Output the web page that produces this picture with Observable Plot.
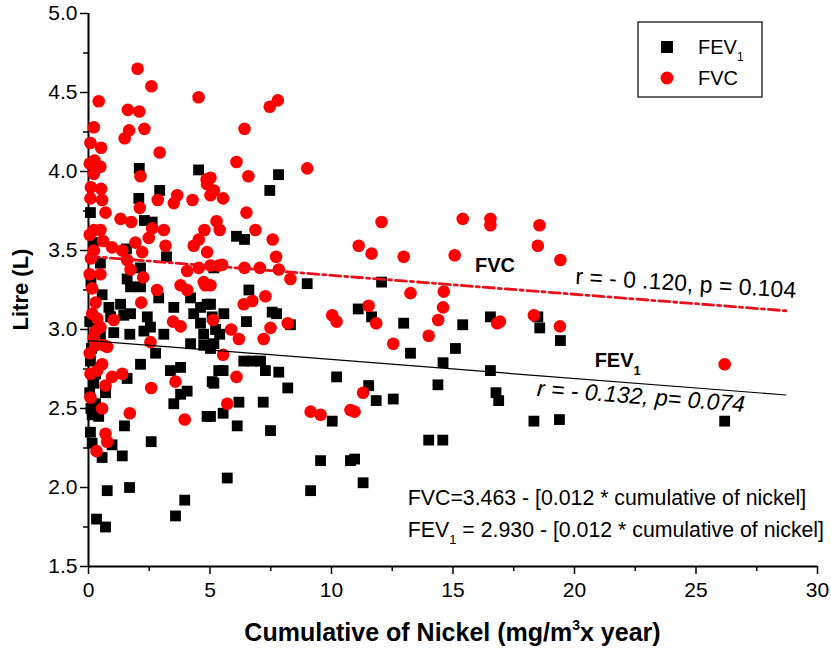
<!DOCTYPE html>
<html><head><meta charset="utf-8">
<script src="https://cdn.jsdelivr.net/npm/d3@7"></script>
<script src="https://cdn.jsdelivr.net/npm/@observablehq/plot@0.6"></script>
<style>body{margin:0;background:#fff;}</style>
</head><body><div id="chart"></div>
<script>
// ---- data ----
const fev1Cum = [2.09,4.53,7.82,2.07,2.93,2.30,2.62,0.08,1.56,3.21,0.49,2.14,1.59,1.73,2.14,2.89,0.56,3.51,4.20,4.61,4.88,1.32,1.45,1.73,2.42,2.55,0.84,0.91,4.33,4.61,4.74,5.09,5.23,0.49,1.04,1.70,2.28,3.10,4.20,4.74,5.16,0.12,0.08,0.29,0.22,0.70,1.59,2.14,3.37,3.79,4.06,3.79,3.51,5.09,4.88,5.36,0.29,0.15,0.42,0.08,0.15,0.97,1.39,0.56,1.48,2.58,0.77,1.69,3.96,3.58,0.33,0.70,2.76,7.46,6.09,6.42,5.16,6.60,9.00,5.02,5.57,7.56,7.74,6.50,8.31,5.40,5.02,6.39,6.74,7.08,5.54,7.28,7.83,5.16,8.20,10.21,6.19,7.19,5.54,5.02,6.12,7.49,10.03,9.55,10.78,5.71,9.14,12.06,11.10,11.65,12.97,15.40,16.54,18.49,18.57,19.42,15.10,13.25,14.59,16.54,11.53,11.84,12.54,14.38,16.77,16.88,18.33,19.38,14.00,14.58,10.95,11.30,26.18,0.05,0.10,0.20,0.05,0.30,0.10];
const fev1Val = [4.02,4.01,3.98,3.83,3.88,3.69,3.68,3.74,3.51,3.46,3.42,3.39,3.32,3.27,3.27,3.20,3.22,3.14,3.20,3.14,3.16,3.16,3.09,3.10,3.08,3.015,3.14,3.08,3.10,3.04,2.97,3.08,3.00,2.97,2.98,2.97,2.99,2.97,2.91,2.90,2.91,2.88,2.80,2.72,2.66,2.60,2.69,2.78,2.74,2.76,2.61,2.59,2.53,2.67,2.45,2.74,2.53,2.46,2.45,2.35,2.28,2.27,2.20,2.19,2.39,2.29,1.98,2.00,1.92,1.82,1.80,1.75,2.85,3.88,3.59,3.57,3.39,3.25,3.29,3.16,3.10,3.11,3.10,3.05,3.03,2.97,2.88,2.80,2.80,2.80,2.74,2.74,2.73,2.66,2.63,2.70,2.54,2.54,2.47,2.45,2.39,2.36,2.42,2.17,2.17,2.06,1.98,3.30,3.13,3.08,3.04,3.03,3.08,3.08,3.01,2.93,2.88,2.85,2.79,2.74,2.645,2.55,2.56,2.65,2.60,2.55,2.42,2.43,2.30,2.30,2.18,2.03,2.42,3.05,3.30,3.55,2.60,3.00,2.50];
const fvcCum = [2.02,2.59,0.42,1.62,2.09,4.53,0.22,1.67,2.30,1.49,0.08,0.52,2.93,0.25,0.49,0.22,2.14,4.86,7.79,7.46,6.42,6.09,6.58,9.00,5.02,0.52,0.08,0.56,2.85,3.65,3.51,4.28,4.88,5.02,2.11,0.70,1.32,1.76,5.27,0.22,0.49,2.62,3.10,2.48,4.77,4.54,0.60,0.97,1.39,1.93,2.21,3.17,4.33,4.88,0.22,1.59,1.73,4.06,4.54,5.02,5.36,0.49,2.25,4.74,4.81,0.15,2.82,3.79,4.06,2.17,0.29,0.36,0.49,0.29,1.04,3.48,3.79,5.13,2.55,0.22,0.63,0.29,0.77,0.56,0.36,0.08,0.97,1.39,0.70,0.08,0.56,1.70,0.70,0.77,0.33,2.58,3.58,3.96,5.16,5.54,6.50,5.40,6.87,7.58,7.72,5.50,6.42,7.05,7.83,8.31,5.02,7.28,6.39,6.74,10.03,10.21,8.20,7.49,5.87,6.19,7.21,5.54,6.09,5.71,9.14,9.55,10.78,12.06,15.40,16.54,16.54,18.56,11.12,11.65,12.97,15.07,18.49,19.42,13.25,14.62,14.59,11.53,11.84,14.39,14.00,12.54,16.82,16.93,18.33,19.40,11.30,10.95,26.18,0.05,0.10,0.05,0.10,0.05,0.15,0.05];
const fvcVal = [4.65,4.54,4.445,4.39,4.38,4.47,4.28,4.26,4.27,4.21,4.18,4.15,4.12,4.07,4.03,3.985,3.97,3.95,4.45,4.41,4.27,4.06,3.97,4.02,3.96,3.89,3.83,3.82,3.82,3.85,3.80,3.82,3.92,3.85,3.77,3.74,3.70,3.68,3.685,3.63,3.63,3.64,3.63,3.58,3.63,3.57,3.56,3.52,3.50,3.55,3.49,3.53,3.53,3.49,3.50,3.44,3.38,3.37,3.39,3.405,3.405,3.35,3.33,3.30,3.28,3.26,3.25,3.28,3.25,3.17,3.17,3.07,3.015,2.99,3.06,3.05,3.02,3.06,2.92,2.95,2.90,2.90,2.89,2.78,2.74,2.72,2.70,2.72,2.645,2.57,2.50,2.47,2.34,2.29,2.23,2.63,2.67,2.43,3.88,3.83,3.74,3.63,3.63,3.57,3.46,3.41,3.39,3.39,3.38,3.32,3.28,3.21,3.16,3.18,3.09,3.05,3.04,3.01,3.00,2.94,2.94,2.84,2.70,2.53,2.48,2.46,2.49,3.68,3.70,3.70,3.66,3.66,3.53,3.48,3.46,3.47,3.53,3.44,3.23,3.24,3.14,3.15,3.04,3.06,2.96,2.91,3.04,3.05,3.09,3.02,2.60,2.48,2.78,4.05,3.90,3.60,3.45,3.35,3.10,2.85];
const xTicks = [0,5,10,15,20,25,30];
const xMinor = [2.5,7.5,12.5,17.5,22.5,27.5];
const yTicks = [1.5,2.0,2.5,3.0,3.5,4.0,4.5,5.0];
const yMinor = [1.75,2.25,2.75,3.25,3.75,4.25,4.75];
const fvcFit = {intercept: 3.463, slope: -0.012};
const fev1Fit = {intercept: 2.930, slope: -0.012};
const fitRange = [0, 28.7];

// ---- build ----
const fev1 = fev1Cum.map((x,i)=>({x, y: fev1Val[i]}));
const fvc = fvcCum.map((x,i)=>({x, y: fvcVal[i]}));
const fitLine = f => fitRange.map(x=>({x, y: f.intercept + f.slope*x}));
const sans = '"Liberation Sans",Arial,sans-serif';
const RED = "#ff0000";

const chart = Plot.plot({
  width: 831, height: 657,
  marginLeft: 88, marginRight: 14, marginTop: 13, marginBottom: 91,
  x: {domain: [0,30]}, y: {domain: [1.5,5]},
  style: {fontFamily: sans, background: "white", overflow: "visible", color: "black"},
  marks: [
    Plot.axisY({ticks: yMinor, tickSize: 5, tickFormat: () => "", label: null, strokeWidth: 1.5}),
    Plot.axisY({ticks: yTicks, tickSize: 8, tickPadding: 3, tickFormat: d3.format(".1f"), label: null, fontSize: 21, strokeWidth: 1.5}),
    Plot.axisX({ticks: xMinor, tickSize: 5, tickFormat: () => "", label: null, strokeWidth: 1.5}),
    Plot.axisX({ticks: xTicks, tickSize: 8, tickPadding: 8, tickFormat: d => String(d), label: null, fontSize: 21, strokeWidth: 1.5}),
    Plot.ruleX([0], {strokeWidth: 2}),
    Plot.ruleY([1.5], {strokeWidth: 2}),
    Plot.dot(fev1, {x: "x", y: "y", symbol: "square", r: 6.1, fill: "black"}),
    Plot.dot(fvc, {x: "x", y: "y", symbol: "circle", r: 6.3, fill: RED}),
    Plot.line(fitLine(fev1Fit), {x: "x", y: "y", stroke: "black", strokeWidth: 1.2}),
    Plot.line(fitLine(fvcFit), {x: "x", y: "y", stroke: "#e8101a", strokeWidth: 2.8, strokeDasharray: "11,4,3,4"})
  ]
});
document.getElementById("chart").appendChild(chart);

const svg = d3.select(chart);
const sx = chart.scale("x"), sy = chart.scale("y");
const X = v => sx.apply(v), Y = v => sy.apply(v);
const txt = (sel) => sel.append("text").attr("text-anchor","start").style("font-family", sans);

// axis titles
txt(svg).attr("transform", `translate(20,${(Y(1.5)+Y(5))/2}) rotate(-90)`)
  .attr("text-anchor","middle").attr("dy","0.35em")
  .style("font-weight","bold").style("font-size","22px").text("Litre (L)");
const xt = txt(svg).attr("x", (X(0)+X(30))/2).attr("y", 641).attr("text-anchor","middle")
  .style("font-weight","bold").style("font-size","25px");
xt.append("tspan").text("Cumulative of Nickel (mg/m");
xt.append("tspan").attr("dy","-11").style("font-size","14px").text("3");
xt.append("tspan").attr("dy","11").text("x year)");

// series labels on the fit lines
txt(svg).attr("x", X(16.75)).attr("y", Y(3.405)).attr("dy","0.35em").attr("text-anchor","middle")
  .style("font-weight","bold").style("font-size","20px").text("FVC");
const fl = txt(svg).attr("x", X(20.85)).attr("y", Y(2.804)).attr("dy","0.35em")
  .style("font-weight","bold").style("font-size","20px");
fl.append("tspan").text("FEV");
fl.append("tspan").attr("dy","8").style("font-size","13px").text("1");

// correlation texts (tilted like the lines)
txt(svg).attr("transform", `translate(${X(24.6)},${Y(3.291)}) rotate(3.6)`)
  .attr("text-anchor","middle").attr("dy","0.35em")
  .style("font-size","23px").text("r = - 0 .120, p = 0.104");
txt(svg).attr("transform", `translate(${X(22.76)},${Y(2.576)}) rotate(4.4)`)
  .attr("text-anchor","middle").attr("dy","0.35em")
  .style("font-size","23px").style("font-style","italic").text("r = - 0.132, p= 0.074");

// equations
const eqX = X(13.16);
txt(svg).attr("x", eqX).attr("y", 505).style("font-size","21.3px")
  .text("FVC=3.463 - [0.012 * cumulative of nickel]");
const e2 = txt(svg).attr("x", eqX).attr("y", 537).style("font-size","21.3px");
e2.append("tspan").text("FEV");
e2.append("tspan").attr("dy","7").style("font-size","13px").text("1");
e2.append("tspan").attr("dy","-7").text(" = 2.930 - [0.012 * cumulative of nickel]");

// legend
const lg = svg.append("g");
lg.append("rect").attr("x",638).attr("y",22).attr("width",124).attr("height",75)
  .attr("fill","white").attr("stroke","#333").attr("stroke-width",1.5);
lg.append("rect").attr("x",661).attr("y",41).attr("width",12).attr("height",12).attr("fill","black");
lg.append("circle").attr("cx",667).attr("cy",78).attr("r",6.5).attr("fill",RED);
const l1 = txt(lg).attr("x",698).attr("y",54).style("font-size","20px");
l1.append("tspan").text("FEV");
l1.append("tspan").attr("dy","7").style("font-size","12px").text("1");
txt(lg).attr("x",698).attr("y",85).style("font-size","20px").text("FVC");
</script>
</body></html>
